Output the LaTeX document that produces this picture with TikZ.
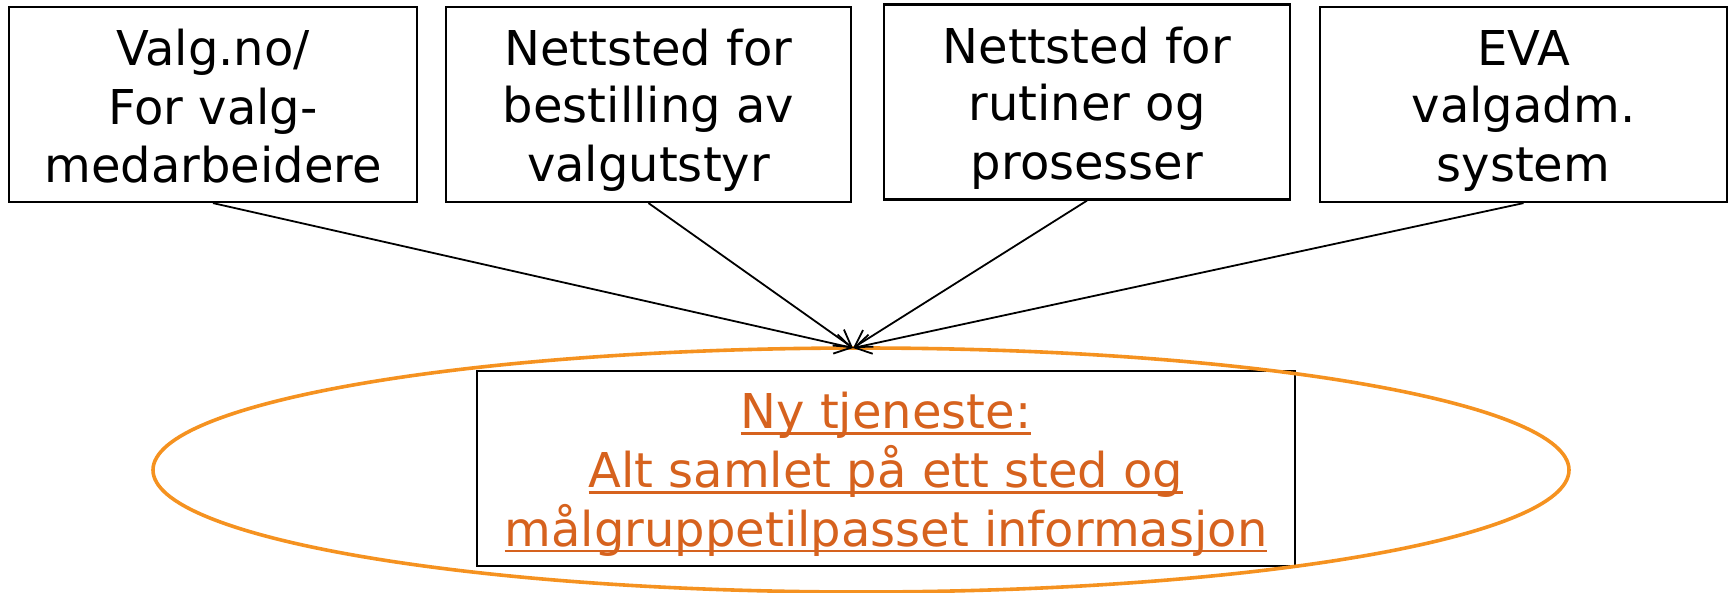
\documentclass[tikz,border=0pt]{standalone}
\usepackage{fontspec}
\setmainfont{DejaVu Sans}
\usetikzlibrary{arrows.meta,shapes.geometric}
\definecolor{ellorange}{RGB}{245,146,32}
\definecolor{txtorange}{RGB}{214,98,30}
\newcommand\lnstrut{\rule[-9pt]{0pt}{57pt}}
\newcommand\myul[1]{\setbox0\hbox{#1}\rlap{\color{txtorange}\rule[-6pt]{\wd0}{2.6pt}}\box0}
\tikzset{
  srcbox/.style={draw=black, line width=2.2pt, rectangle, inner sep=0pt,
    minimum height=195pt, align=center,
    font=\fontsize{48}{57}\selectfont},
  mainbox/.style={draw=black, line width=2.2pt, rectangle, inner sep=0pt,
    minimum width=818pt, minimum height=195pt, align=center,
    text=txtorange, font=\fontsize{48}{57}\selectfont},
  ringshape/.style={draw=ellorange, line width=3.6pt, ellipse, inner sep=0pt,
    minimum width=1416pt, minimum height=244pt},
  feed/.style={draw=black, line width=1.8pt, -{Straight Barb[angle=62:19pt]}}
}
\begin{document}
\begin{tikzpicture}[x=1pt,y=-1pt]
\useasboundingbox (0,0) rectangle (1733,592);
\node[srcbox, minimum width=408pt] (b1) at (213,104.5)
  {\lnstrut Valg.no/\\ \lnstrut For valg-\\ \lnstrut medarbeidere};
\node[srcbox, minimum width=405pt] (b2) at (648.5,104.5)
  {\lnstrut Nettsted for\\ \lnstrut bestilling av\\ \lnstrut valgutstyr};
\node[srcbox, minimum width=406pt] (b3) at (1087,102)
  {\lnstrut Nettsted for\\ \lnstrut rutiner og\\ \lnstrut prosesser};
\node[srcbox, minimum width=407pt] (b4) at (1523.5,104.5)
  {\lnstrut EVA\\ \lnstrut valgadm.\\ \lnstrut system};
\node[mainbox] (main) at (886,468.5)
  {\lnstrut\myul{Ny tjeneste:}\\ \lnstrut\myul{Alt samlet på ett sted og}\\ \lnstrut\myul{målgruppetilpasset informasjon}};
\node[ringshape] (ring) at (861,470) {};
\coordinate (tip) at (853,348);
\draw[feed] (b1.south) -- (tip);
\draw[feed] (b2.south) -- (tip);
\draw[feed] (b3.south) -- (tip);
\draw[feed] (b4.south) -- (tip);
\end{tikzpicture}
\end{document}
